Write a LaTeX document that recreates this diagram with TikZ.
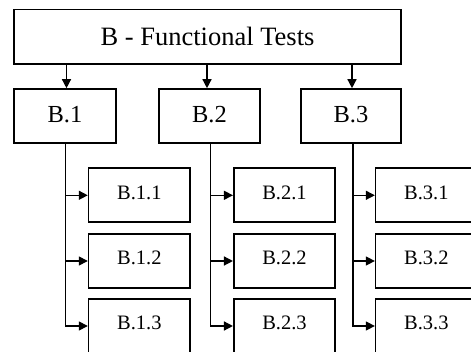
\documentclass[tikz,border=0pt]{standalone}
\usepackage{fontspec}
\setmainfont{Liberation Serif}
\usetikzlibrary{arrows.meta}
\begin{document}
\begin{tikzpicture}[x=1pt,y=-1pt,
  box/.style={draw,line width=1.6pt,inner sep=0pt,minimum height=54pt,anchor=center},
  topbox/.style={box,font=\fontsize{26.5}{28}\selectfont},
  midbox/.style={box,font=\fontsize{24.5}{26}\selectfont,text height=14pt,text depth=1.3pt},
  subbox/.style={box,minimum width=101.5pt,font=\fontsize{20.5}{22}\selectfont,text height=10pt,text depth=2pt},
  conn/.style={line width=1.4pt,-{Triangle[length=9pt,width=9pt]}}]
\useasboundingbox (0,0) rectangle (471,352);
\clip (0,0) rectangle (471,352);
\node[topbox,minimum width=387pt,minimum height=54.5pt] (top) at (207.5,36.75) {B - Functional Tests};
\node[midbox,minimum width=102pt] (b1) at (65,116) {B.1};
\node[midbox,minimum width=101pt] (b2) at (209.5,116) {B.2};
\node[midbox,minimum width=100pt] (b3) at (351,116) {B.3};
\node[subbox] (b11) at (139.35,195.3) {B.1.1};
\node[subbox] (b12) at (139.35,261) {B.1.2};
\node[subbox] (b13) at (139.35,326) {B.1.3};
\node[subbox] (b21) at (284.5,195.3) {B.2.1};
\node[subbox] (b22) at (284.5,261) {B.2.2};
\node[subbox] (b23) at (284.5,326) {B.2.3};
\node[subbox] (b31) at (426.4,195.3) {B.3.1};
\node[subbox] (b32) at (426.4,261) {B.3.2};
\node[subbox] (b33) at (426.4,326) {B.3.3};
\foreach \p/\d in {b1/1.5,b2/-2.5,b3/1}{
  \draw[conn] ([xshift=\d pt]top.south -| \p) -- ([xshift=\d pt]\p.north);
}
\foreach \p/\a/\b/\c/\d in {b1/b11/b12/b13/0.7,b2/b21/b22/b23/1.2,b3/b31/b32/b33/2}{
  \draw[conn] ([xshift=\d pt]\p.south) |- (\c.west);
  \draw[conn] ([xshift=\d pt]\p.south |- \a.west) -- (\a.west);
  \draw[conn] ([xshift=\d pt]\p.south |- \b.west) -- (\b.west);
}
\end{tikzpicture}
\end{document}
